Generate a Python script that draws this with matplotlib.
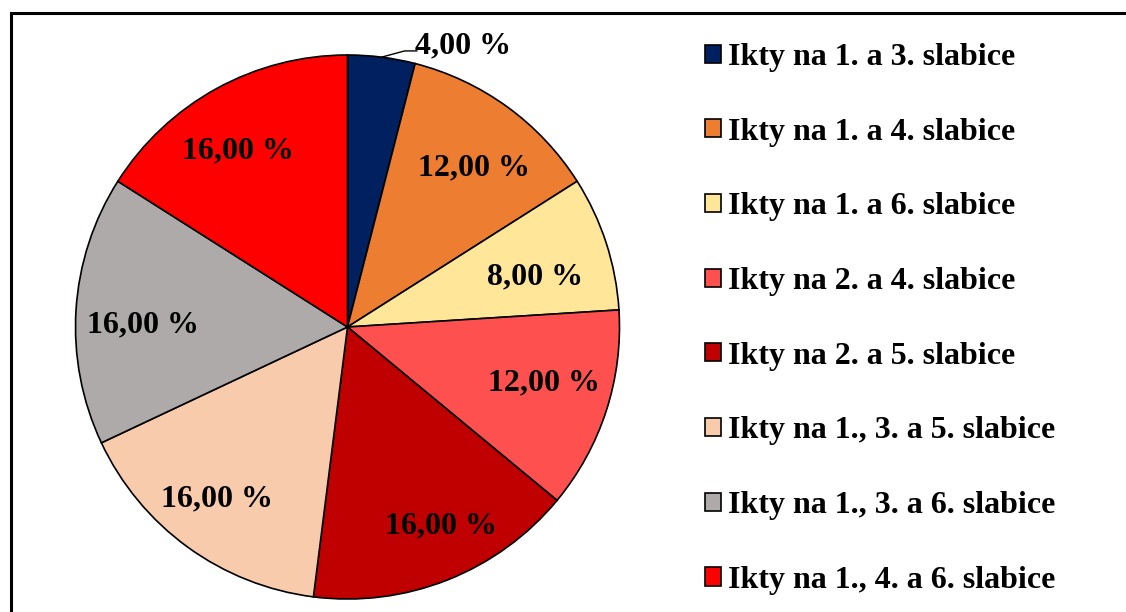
import matplotlib
matplotlib.use("Agg")
import matplotlib.pyplot as plt
from matplotlib.patches import Rectangle
import numpy as np

categories = [
    "Ikty na 1. a 3. slabice",
    "Ikty na 1. a 4. slabice",
    "Ikty na 1. a 6. slabice",
    "Ikty na 2. a 4. slabice",
    "Ikty na 2. a 5. slabice",
    "Ikty na 1., 3. a 5. slabice",
    "Ikty na 1., 3. a 6. slabice",
    "Ikty na 1., 4. a 6. slabice",
]
shares = [4.0, 12.0, 8.0, 12.0, 16.0, 16.0, 16.0, 16.0]
colors = ["#002060", "#ED7D31", "#FFE699", "#FF5050",
          "#C00000", "#F8CBAD", "#AEAAAA", "#FF0000"]

# small manual nudges of the inside labels (pixels, x right / y up)
label_nudge = [(0, 0), (3, -1), (-12, -6), (-3, 18),
               (16, 5), (-7, 6), (5, -2), (-9, 2)]

plt.rcParams["font.family"] = ["Liberation Serif", "DejaVu Serif"]
plt.rcParams["font.weight"] = "bold"

W, H = 1126, 612
fig = plt.figure(figsize=(W / 100, H / 100), dpi=100)

# outer frame of the chart area
fig.patches.append(Rectangle((10.5 / W, -0.1), 1.2, (H - 12.5) / H + 0.1,
                             transform=fig.transFigure, fill=False,
                             edgecolor="black", linewidth=2.2))

cx, cy, r = 347.5, 327.0, 272.0
ax = fig.add_axes([(cx - r) / W, (H - cy - r) / H, 2 * r / W, 2 * r / H])

fmt = lambda v: f"{v:.2f} %".replace(".", ",")
FS = 23

wedges, _ = ax.pie(shares, colors=colors, startangle=90, counterclock=False,
                   radius=1.0,
                   wedgeprops=dict(edgecolor="black", linewidth=1.2))
ax.set_xlim(-1, 1)
ax.set_ylim(-1, 1)
ax.set_aspect("equal")
ax.axis("off")

# slice labels
label_r = 0.77
for w, v, (dx, dy) in zip(wedges, shares, label_nudge):
    ang = np.deg2rad((w.theta1 + w.theta2) / 2)
    x, y = np.cos(ang), np.sin(ang)
    if v < 5:
        # small slice: label outside with a leader line
        ax.plot([x, 0.21, 0.255], [y, 1.015, 1.015], color="black", lw=1.0,
                clip_on=False)
        ax.text(0.425, 1.045, fmt(v), ha="center", va="center_baseline",
                fontsize=FS, fontweight="bold", clip_on=False)
    else:
        ax.text(label_r * x + dx / r, label_r * y - 0.02 + dy / r, fmt(v),
                ha="center", va="center_baseline", fontsize=FS,
                fontweight="bold")

leg = fig.legend(wedges, categories, loc="upper left",
                 bbox_to_anchor=(705 / W, 1 - 43 / H),
                 frameon=False, fontsize=FS, handlelength=0.5,
                 handleheight=0.5, handletextpad=0.22, labelspacing=1.43,
                 borderpad=0, borderaxespad=0)
for t in leg.get_texts():
    t.set_fontweight("bold")

fig.savefig("out.png", dpi=100)
